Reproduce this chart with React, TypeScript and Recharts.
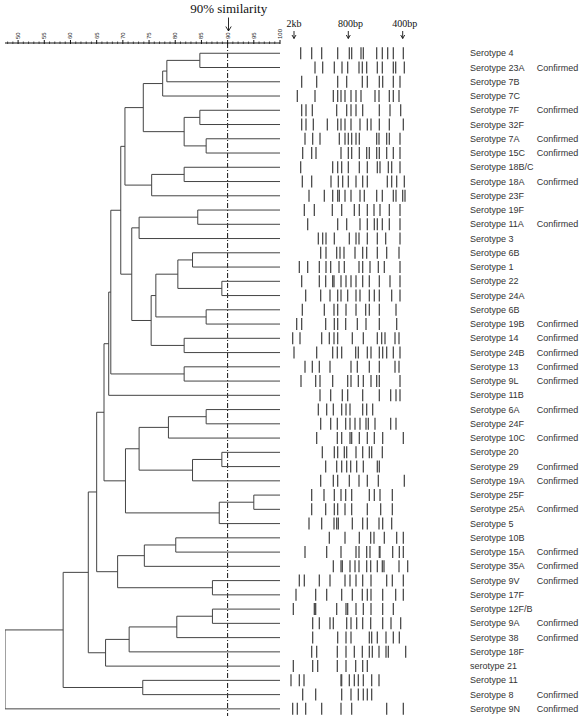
import React from "react";
import { ScatterChart, Scatter, XAxis, YAxis, ReferenceLine } from "recharts";

// lanes, top to bottom
const serotypes = [
  "Serotype 4", "Serotype 23A", "Serotype 7B", "Serotype 7C", "Serotype 7F",
  "Serotype 32F", "Serotype 7A", "Serotype 15C", "Serotype 18B/C", "Serotype 18A",
  "Serotype 23F", "Serotype 19F", "Serotype 11A", "Serotype 3", "Serotype 6B",
  "Serotype 1", "Serotype 22", "Serotype 24A", "Serotype 6B", "Serotype 19B",
  "Serotype 14", "Serotype 24B", "Serotype 13", "Serotype 9L", "Serotype 11B",
  "Serotype 6A", "Serotype 24F", "Serotype 10C", "Serotype 20", "Serotype 29",
  "Serotype 19A", "Serotype 25F", "Serotype 25A", "Serotype 5", "Serotype 10B",
  "Serotype 15A", "Serotype 35A", "Serotype 9V", "Serotype 17F", "Serotype 12F/B",
  "Serotype 9A", "Serotype 38", "Serotype 18F", "serotype 21", "Serotype 11",
  "Serotype 8", "Serotype 9N",
];

const C = "Confirmed";
const status = [
  "", C, "", "", C, "", C, C, "", C,
  "", "", C, "", "", "", "", "", "", C,
  C, C, C, C, "", C, "", C, "", C,
  C, "", C, "", "", C, C, C, "", "",
  C, C, "", "", "", C, C,
];

// cluster joins: leaves are 0..46, join k becomes node 47 + k
const merges: [number, number][] = [
  [0, 1], [47, 2], [48, 3], [4, 5], [6, 7], [50, 51], [49, 52], [8, 9],
  [54, 10], [53, 55], [11, 12], [57, 13], [14, 15], [16, 17], [59, 60], [18, 19],
  [61, 62], [20, 21], [63, 64], [58, 65], [56, 66], [22, 23], [67, 68], [69, 24],
  [25, 26], [71, 27], [28, 29], [73, 30], [72, 74], [31, 32], [76, 33], [75, 77],
  [70, 78], [34, 35], [80, 36], [37, 38], [81, 82], [79, 83], [39, 40], [85, 41],
  [86, 42], [87, 43], [84, 88], [44, 45], [89, 90], [91, 46],
];
const mergeSimilarity = [
  84.7, 78.4, 77.6, 84.7, 85.9, 81.7, 73.9, 81.7,
  75.5, 70.4, 84.3, 73.1, 83.3, 88.9, 80.5, 85.9,
  76.3, 81.7, 75.4, 71.7, 69.6, 81.7, 67.7, 67.3,
  85.9, 78.7, 88.9, 83.3, 73.1, 95.0, 88.4, 70.5,
  66.4, 80.1, 74.1, 87.1, 69.0, 65.0, 87.1, 80.3,
  71.2, 66.7, 63.4, 73.8, 58.6, 47.5,
];

// band positions along each lane (migration, 0 = well)
const bands: number[][] = [
  [62, 95, 125, 173, 208, 215, 243, 250, 290, 307, 323, 340, 370],
  [105, 128, 163, 186, 203, 237, 247, 260, 292, 307, 340, 347, 373],
  [65, 110, 173, 200, 247, 262, 298, 308, 340, 360],
  [52, 105, 160, 173, 183, 195, 213, 228, 243, 285, 297, 328, 340, 357],
  [65, 78, 97, 170, 200, 213, 228, 248, 298, 330, 362],
  [65, 78, 100, 142, 173, 183, 195, 213, 240, 262, 273, 298, 328, 370],
  [75, 98, 120, 178, 195, 205, 215, 228, 238, 290, 297, 320, 328, 360],
  [68, 95, 108, 183, 205, 215, 238, 260, 268, 290, 298, 320, 340, 360],
  [62, 158, 173, 185, 205, 238, 262, 292, 300, 325, 335, 360],
  [67, 95, 153, 175, 188, 205, 228, 248, 262, 322, 335, 350, 373],
  [87, 133, 158, 173, 178, 195, 213, 240, 253, 290, 307, 340, 348, 368, 375],
  [73, 103, 157, 185, 223, 238, 262, 282, 300, 328, 360],
  [83, 173, 200, 240, 262, 283, 292, 307, 328, 360],
  [115, 128, 138, 163, 208, 228, 237, 262, 292, 317, 360],
  [122, 138, 170, 180, 192, 225, 248, 260, 292, 320, 357],
  [58, 83, 118, 138, 152, 177, 193, 237, 248, 270, 295, 313, 360],
  [65, 118, 137, 158, 162, 183, 198, 213, 228, 248, 268, 298, 330, 360],
  [77, 122, 150, 173, 183, 203, 228, 240, 268, 283, 298, 335, 360],
  [67, 133, 162, 173, 198, 228, 257, 268, 298, 348],
  [50, 65, 137, 163, 173, 197, 232, 258, 298, 350],
  [38, 60, 125, 148, 162, 173, 217, 250, 292, 305, 315, 345, 357],
  [42, 110, 158, 172, 185, 227, 235, 262, 273, 298, 308, 320, 340, 360],
  [75, 97, 118, 150, 213, 232, 268, 298, 345, 357],
  [63, 107, 120, 158, 203, 213, 235, 250, 273, 290, 298, 360],
  [120, 152, 187, 203, 248, 298, 332, 348, 360],
  [115, 140, 160, 185, 198, 210, 248, 260, 278],
  [122, 152, 172, 197, 210, 225, 240, 258, 265, 285, 332, 348],
  [110, 172, 185, 210, 215, 238, 262, 283, 308, 370],
  [127, 163, 173, 193, 200, 228, 248, 268, 275, 307],
  [137, 170, 185, 200, 212, 230, 250, 292, 298],
  [122, 160, 173, 208, 237, 262, 295, 373],
  [95, 132, 163, 183, 197, 215, 268, 283, 300, 337],
  [95, 137, 163, 173, 195, 215, 262, 302, 337],
  [87, 125, 162, 170, 175, 217, 248, 262, 297, 308, 335],
  [148, 195, 238, 272, 282, 313, 350, 370],
  [75, 140, 183, 228, 237, 260, 270, 298, 300, 338, 358, 370],
  [160, 183, 187, 210, 225, 237, 260, 272, 292, 307, 312, 357, 383],
  [58, 73, 118, 150, 195, 210, 228, 248, 273, 320, 337, 370],
  [48, 107, 140, 185, 217, 247, 262, 273, 308, 347, 370],
  [40, 103, 107, 170, 198, 203, 228, 250, 273, 308, 340],
  [98, 118, 150, 160, 200, 213, 230, 248, 272, 308, 333, 362],
  [98, 173, 198, 213, 268, 275, 292, 318, 340, 358],
  [95, 110, 172, 198, 223, 247, 268, 277, 297, 318, 325, 377],
  [40, 98, 113, 172, 198, 227, 248, 262],
  [33, 58, 72, 183, 185, 208, 223, 235, 250, 275, 297],
  [68, 107, 185, 213, 235, 250, 262, 275],
  [38, 52, 77, 125, 183, 215, 320, 370],
];

const majorTicks = [50, 55, 60, 65, 70, 75, 80, 85, 90, 95, 100];
const simTicks: number[] = [];
for (let v = 48; v <= 100; v++) simTicks.push(v);

const rowDomain = [-0.72, 46.5];
const rowTicks = serotypes.map((_, i) => i);

// bracket for every join, child positions taken from earlier joins
const nodeX: number[] = serotypes.map(() => 100);
const nodeY: number[] = serotypes.map((_, i) => i);
const brackets = merges.map(([a, b], k) => {
  const s = mergeSimilarity[k];
  const pts = [
    { x: nodeX[a], y: nodeY[a] },
    { x: s, y: nodeY[a] },
    { x: s, y: nodeY[b] },
    { x: nodeX[b], y: nodeY[b] },
  ];
  nodeX.push(s);
  nodeY.push((nodeY[a] + nodeY[b]) / 2);
  return pts;
});

const gel = bands.flatMap((lane, i) => lane.map((pos) => ({ pos, lane: i })));

const noDot = () => <g />;

const Band = (props: any) => (
  <line x1={props.cx} x2={props.cx} y1={props.cy - 6} y2={props.cy + 6} stroke="#4d4d4d" strokeWidth={1.3} />
);

const SimTick = (props: any) => {
  const { x, y, payload } = props;
  const v = payload.value;
  if (!majorTicks.includes(v)) {
    return <line x1={x} x2={x} y1={y - 1.5} y2={y + 1} stroke="#222" strokeWidth={0.8} />;
  }
  return (
    <g>
      <line x1={x} x2={x} y1={y - 3} y2={y + 1} stroke="#111" strokeWidth={1} />
      <text
        x={x}
        y={y - 4}
        transform={`rotate(-90 ${x} ${y - 4})`}
        textAnchor="start"
        dominantBaseline="central"
        fontSize={6}
        fontFamily="Liberation Sans, Arial"
        fill="#222"
      >
        {v}
      </text>
    </g>
  );
};

const LabelTick = (props: any) => {
  const { x, y, payload } = props;
  const i = payload.value;
  return (
    <g fontFamily="Liberation Sans, Arial" fontSize={9} fill="#333">
      <text x={x + 4} y={y} dominantBaseline="central">{serotypes[i]}</text>
      {status[i] && <text x={x + 70.7} y={y} dominantBaseline="central">{status[i]}</text>}
    </g>
  );
};

const abs: React.CSSProperties = { position: "absolute", left: 0, top: 0 };

export default function App() {
  return (
    <div style={{ ...abs, width: 584, height: 718, background: "#fff" }}>
      <div style={abs}>
        <ScatterChart width={284} height={718} margin={{ top: 13, right: 4, bottom: 2, left: 5 }}>
          <XAxis
            type="number"
            dataKey="x"
            orientation="top"
            domain={[47.5, 100]}
            allowDataOverflow
            ticks={simTicks}
            interval={0}
            tick={<SimTick />}
            tickLine={false}
            tickSize={0}
            tickMargin={0}
            height={30}
            axisLine={{ stroke: "#111", strokeWidth: 1 }}
          />
          <YAxis type="number" dataKey="y" hide domain={rowDomain} reversed allowDataOverflow />
          {brackets.map((pts, k) => (
            <Scatter
              key={k}
              data={pts}
              fill="#444"
              line={{ stroke: "#444", strokeWidth: 1 }}
              shape={noDot}
              isAnimationActive={false}
            />
          ))}
          <ReferenceLine x={90} stroke="#111" strokeWidth={1} strokeDasharray="5 2 1 2" />
        </ScatterChart>
      </div>
      <div style={abs}>
        <ScatterChart width={584} height={718} margin={{ top: 43, right: 0, bottom: 2, left: 280 }}>
          <XAxis type="number" dataKey="pos" hide domain={[0, 558]} />
          <YAxis
            type="number"
            dataKey="lane"
            orientation="right"
            width={118}
            domain={rowDomain}
            reversed
            allowDataOverflow
            ticks={rowTicks}
            interval={0}
            tick={<LabelTick />}
            tickLine={false}
            axisLine={false}
            tickSize={0}
            tickMargin={0}
          />
          <Scatter data={gel} fill="#4d4d4d" shape={Band} isAnimationActive={false} />
        </ScatterChart>
      </div>
      <svg style={abs} width={584} height={42}>
        <g fontFamily="Liberation Serif, Times New Roman, serif" fill="#111">
          <text x={228.7} y={13} fontSize={13} textAnchor="middle">90% similarity</text>
          <text x={294} y={27} fontSize={10} textAnchor="middle">2kb</text>
          <text x={350.5} y={27} fontSize={10} textAnchor="middle">800bp</text>
          <text x={404.7} y={27} fontSize={10} textAnchor="middle">400bp</text>
        </g>
        <g stroke="#111" strokeWidth={0.9} fill="none">
          <path d="M228.5 17.5 V31 M225.8 26.5 L228.5 31 L231.2 26.5" />
          <path d="M294 31 V38.5 M292 35 L294 38.5 L296 35" />
          <path d="M348.3 31 V38.5 M346.3 35 L348.3 38.5 L350.3 35" />
          <path d="M402.7 31 V38.5 M400.7 35 L402.7 38.5 L404.7 35" />
        </g>
      </svg>
    </div>
  );
}
